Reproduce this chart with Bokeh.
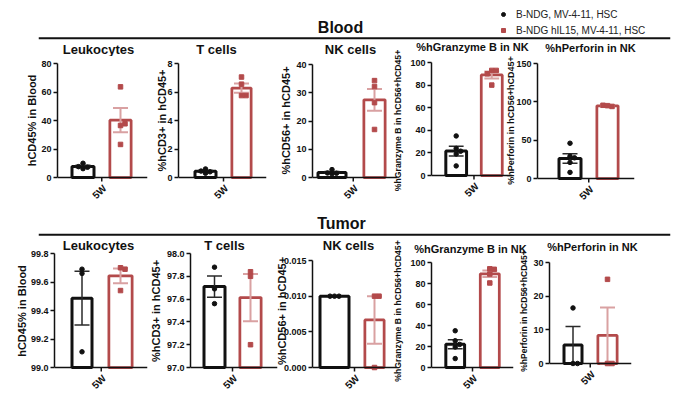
import math
import numpy as np
from bokeh.plotting import figure
from bokeh.layouts import row, column
from bokeh.models import Range1d, FixedTicker, Label, Span, Legend, LegendItem
from bokeh.embed import file_html
from bokeh.resources import INLINE

FONT = "Liberation Sans"
INK = "#111111"
RED = "#b34a4b"
RED_ERR = "#d9a1a2"
BLACK_ERR = "#2a2a2a"

# ---------------- data ----------------
group_names = ["B-NDG, MV-4-11, HSC", "B-NDG hIL15, MV-4-11, HSC"]
timepoint_label = "5W"
section_titles = ["Blood", "Tumor"]

panel_titles = ["Leukocytes", "T cells", "NK cells", "%hGranzyme B in NK", "%hPerforin in NK"]
y_labels = ["hCD45% in Blood", "%hCD3+ in hCD45+", "%hCD56+ in hCD45+",
            "%hGranzyme B in hCD56+hCD45+", "%hPerforin in hCD56+hCD45+"]

# Blood (individual mice)
blood_leuko_bndg = [6.2, 7.2, 10.0, 7.6]
blood_leuko_il15 = [63.6, 36.5, 37.7, 23.2]
blood_t_bndg = [0.30, 0.40, 0.45, 0.60]
blood_t_il15 = [7.05, 6.55, 5.75, 5.75]
blood_nk_bndg = [2.8, 1.5, 1.6, 1.3]
blood_nk_il15 = [34.3, 32.2, 26.5, 17.0]
blood_gzmb_bndg = [35.0, 24.0, 21.5, 19.0, 8.5]
blood_gzmb_il15 = [93.0, 93.0, 90.0, 80.0]
blood_prf_bndg = [46.0, 29.0, 27.0, 21.0, 8.0]
blood_prf_il15 = [95.0, 94.0, 95.5]

# Tumor (individual mice)
tumor_leuko_bndg = [99.69, 99.66, 99.11]
tumor_leuko_il15 = [99.70, 99.69, 99.54]
tumor_t_bndg = [97.88, 97.69, 97.56]
tumor_t_il15 = [97.84, 97.80, 97.20]
tumor_nk_bndg = [0.010, 0.010, 0.010]
tumor_nk_il15 = [0.010, 0.010, 0.000]
tumor_gzmb_bndg = [35.0, 25.5, 22.0, 19.5, 8.5]
tumor_gzmb_il15 = [94.0, 93.5, 89.0, 80.5]
tumor_prf_bndg = [0.0, 0.0, 16.5]
tumor_prf_il15 = [0.0, 0.0, 25.0]

# y-axis ticks and labels
blood_leuko_ticks = [0, 20, 40, 60, 80]
blood_t_ticks = [0, 2, 4, 6, 8]
blood_nk_ticks = [0, 10, 20, 30, 40]
blood_gzmb_ticks = [0, 20, 40, 60, 80, 100]
blood_prf_ticks = [0, 50, 100, 150]
tumor_leuko_ticks = [99.0, 99.2, 99.4, 99.6, 99.8]
tumor_leuko_ticklabels = ["99.0", "99.2", "99.4", "99.6", "99.8"]
tumor_t_ticks = [97.0, 97.2, 97.4, 97.6, 97.8, 98.0]
tumor_t_ticklabels = ["97.0", "97.2", "97.4", "97.6", "97.8", "98.0"]
tumor_nk_ticks = [0.0, 0.005, 0.010, 0.015]
tumor_nk_ticklabels = ["0.000", "0.005", "0.010", "0.015"]
tumor_gzmb_ticks = [0, 20, 40, 60, 80, 100]
tumor_prf_ticks = [0, 10, 20, 30]

# ---------------- layout (window pixel coordinates) ----------------
HDR1 = dict(top=0, bottom=56, title_c=(340, 27), rule=37.7)
HDR2 = dict(top=200, bottom=256, title_c=(341, 223), rule=234.3)
BLOOD_ROW = dict(top=36, bottom=204)
TUMOR_ROW = dict(top=229, bottom=392)
BAR_LW = (3.0, 2.75)
CAP_PX = 15

blood_geom = [
    dict(frame=(57, 147, 63, 177), fig=(14, 152), centers=(82.5, 120), widths=(25, 24), ls=0, tc=(98, 49), tsz=13, lsz=11),
    dict(frame=(178, 266, 63, 177), fig=(148, 272), centers=(205, 241), widths=(24, 22), ls=-4, tc=(216, 49), tsz=13, lsz=11),
    dict(frame=(312, 397, 64, 177), fig=(276, 400), centers=(331.5, 374), widths=(31, 24), ls=1, tc=(350, 49), tsz=13, lsz=11),
    dict(frame=(430, 512, 62, 175), fig=(390, 530), centers=(455, 491), widths=(24, 24), ls=4, tc=(472, 46), tsz=11, lsz=8.7),
    dict(frame=(537, 634, 63, 178), fig=(503, 645), centers=(569.5, 607), widths=(25, 24), ls=-3, tc=(590, 47), tsz=11, lsz=9),
]
tumor_geom = [
    dict(frame=(54, 147, 253, 367), fig=(10, 152), centers=(81.5, 120), widths=(23, 26), ls=0, tc=(98, 245), tsz=13, lsz=11),
    dict(frame=(190, 277, 253, 367), fig=(144, 282), centers=(214, 250), widths=(24, 24), ls=2, tc=(224, 245), tsz=13, lsz=11),
    dict(frame=(312, 397, 260, 367), fig=(270, 400), centers=(334, 374), widths=(32, 22), ls=-7, tc=(348, 245), tsz=13, lsz=11),
    dict(frame=(430, 513, 262, 367), fig=(390, 530), centers=(454, 489), widths=(22, 22), ls=4, tc=(470, 248), tsz=11, lsz=8.7),
    dict(frame=(549, 631, 262, 363), fig=(514, 645), centers=(572.5, 607), widths=(21, 22), ls=1, tc=(592, 246), tsz=11, lsz=8.5),
]


def spread(values, px_per_y, step=4.5, sep=4.0):
    placed, offs = [], []
    cands = [0.0]
    for i in range(1, 8):
        cands += [i * step, -i * step]
    for v in values:
        ypx = v * px_per_y
        chosen = cands[-1]
        for c in cands:
            if all(abs(c - pc) >= sep or abs(ypx - py) >= sep for pc, py in placed):
                chosen = c
                break
        placed.append((chosen, ypx))
        offs.append(chosen)
    return offs


def style_yaxis(p, ticks, ticklabels, lsz, ls):
    yax = p.yaxis[0]
    yax.ticker = FixedTicker(ticks=list(ticks))
    yax.major_label_overrides = {t: l for t, l in zip(ticks, ticklabels)}
    yax.bounds = (ticks[0], ticks[-1])
    yax.axis_line_color = INK
    yax.axis_line_width = 1.5
    yax.major_tick_line_color = INK
    yax.major_tick_line_width = 1.5
    yax.major_tick_out = 4
    yax.major_tick_in = 0
    yax.minor_tick_line_color = None
    yax.major_label_text_font = FONT
    yax.major_label_text_font_style = "bold"
    yax.major_label_text_font_size = "9px"
    yax.major_label_text_color = INK
    yax.major_label_standoff = 2
    yax.axis_label_text_font = FONT
    yax.axis_label_text_font_style = "bold"
    yax.axis_label_text_font_size = f"{lsz}px"
    yax.axis_label_text_color = INK
    yax.axis_label_standoff = ls
    p.ygrid.visible = False


def make_panel(ylabel, bndg, il15, ticks, ticklabels, g, rw):
    FL, FR, FT, FB = g["frame"]
    figL, figR = g["fig"]
    cb, cr = g["centers"]
    wb, wr = g["widths"]
    top, bottom = rw["top"], rw["bottom"]
    unit = cr - cb
    xs = -(cb - FL) / unit
    xe = (FR - cb) / unit
    y0, y1 = ticks[0], ticks[-1]
    px_per_y = (FB - FT) / (y1 - y0)
    ys = y0 - (bottom - FB) / px_per_y
    ye = y1 + (FT - top) / px_per_y
    p = figure(width=figR - figL, height=bottom - top,
               x_range=Range1d(xs, xe), y_range=Range1d(ys, ye),
               x_axis_location=None,
               output_backend="svg", toolbar_location=None,
               min_border_left=int(round(FL - figL)), min_border_right=int(round(figR - FR)),
               min_border_top=0, min_border_bottom=0,
               background_fill_color=None, border_fill_color=None, outline_line_color=None)
    p.xgrid.visible = False
    p.yaxis.axis_label = ylabel
    style_yaxis(p, ticks, ticklabels, g["lsz"], g["ls"])

    # x axis baseline and the single category tick
    p.add_layout(Span(location=y0, dimension="width", line_color=INK, line_width=1.5))
    p.segment(x0=[0.5], y0=[y0], x1=[0.5], y1=[y0 - 4 / px_per_y], line_color=INK, line_width=1.5)

    groups = [(bndg, INK, BLACK_ERR, "circle", wb, 1.5, BAR_LW[0]),
              (il15, RED, RED_ERR, "square", wr, 2.0, BAR_LW[1])]
    for gi, (vals, col, ecol, marker, wpx, elw, blw) in enumerate(groups):
        arr = np.asarray(vals, dtype=float)
        m = float(arr.mean())
        s = float(arr.std(ddof=1) / np.sqrt(len(arr)))
        p.vbar(x=[gi], top=[m], bottom=y0, width=(wpx - blw) / unit,
               fill_color="white", line_color=col, line_width=blw)
        capw = CAP_PX / unit
        p.segment(x0=[gi], y0=[m - s], x1=[gi], y1=[m + s], line_color=ecol, line_width=elw)
        p.segment(x0=[gi - capw / 2] * 2, y0=[m - s, m + s], x1=[gi + capw / 2] * 2, y1=[m - s, m + s],
                  line_color=ecol, line_width=elw)
        offs = spread(list(arr - y0), px_per_y)
        xs_pts = [gi + o / unit for o in offs]
        p.scatter(x=xs_pts, y=list(arr), marker=marker, size=4.5, fill_color=col, line_color=col)

    # rotated category label under the tick
    p.add_layout(Label(x=0.5, y=y0, text=timepoint_label, angle=math.pi / 4, text_align="right",
                       text_baseline="middle", x_offset=3, y_offset=-9, text_font=FONT,
                       text_font_style="bold", text_font_size="10px", text_color=INK))
    return p


def make_header(text, hd, geoms, with_legend):
    top, bottom = hd["top"], hd["bottom"]
    h = bottom - top
    fl, fr = 38, 670
    hdr = figure(width=672, height=h, x_range=Range1d(0, fr - fl), y_range=Range1d(0, h),
                 x_axis_type=None, y_axis_type=None, output_backend="svg", toolbar_location=None,
                 min_border_left=fl, min_border_right=672 - fr, min_border_top=0,
                 min_border_bottom=0, background_fill_color=None, border_fill_color=None,
                 outline_line_color=None)
    cx, cy = hd["title_c"]
    hdr.add_layout(Label(x=cx - fl, y=bottom - cy, text=text, text_align="center",
                         text_baseline="middle", text_font=FONT, text_font_style="bold",
                         text_font_size="16px", text_color=INK))
    hdr.add_layout(Span(location=bottom - hd["rule"], dimension="width", line_color=INK, line_width=2))
    for t, g in zip(panel_titles, geoms):
        tx, ty = g["tc"]
        hdr.add_layout(Label(x=tx - fl, y=bottom - ty, text=t, text_align="center",
                             text_baseline="middle", text_font=FONT, text_font_style="bold",
                             text_font_size=f"{g['tsz']}px", text_color=INK))
    if with_legend:
        r1 = hdr.scatter(x=[-1000], y=[-1000], marker="circle", size=4.5, fill_color=INK, line_color=INK)
        r2 = hdr.scatter(x=[-1000], y=[-1000], marker="square", size=4.5, fill_color=RED, line_color=RED)
        leg = Legend(items=[LegendItem(label=group_names[0], renderers=[r1]),
                            LegendItem(label=group_names[1], renderers=[r2])],
                     location=(460, bottom - 36), glyph_width=10, glyph_height=12, label_height=12,
                     label_standoff=8, spacing=4, padding=0, margin=0,
                     label_text_font=FONT, label_text_font_size="10px", label_text_color="#222222",
                     border_line_color=None, background_fill_color=None, background_fill_alpha=0)
        hdr.add_layout(leg)
    return hdr


blood_data = [
    (blood_leuko_bndg, blood_leuko_il15, blood_leuko_ticks, [str(t) for t in blood_leuko_ticks]),
    (blood_t_bndg, blood_t_il15, blood_t_ticks, [str(t) for t in blood_t_ticks]),
    (blood_nk_bndg, blood_nk_il15, blood_nk_ticks, [str(t) for t in blood_nk_ticks]),
    (blood_gzmb_bndg, blood_gzmb_il15, blood_gzmb_ticks, [str(t) for t in blood_gzmb_ticks]),
    (blood_prf_bndg, blood_prf_il15, blood_prf_ticks, [str(t) for t in blood_prf_ticks]),
]
tumor_data = [
    (tumor_leuko_bndg, tumor_leuko_il15, tumor_leuko_ticks, tumor_leuko_ticklabels),
    (tumor_t_bndg, tumor_t_il15, tumor_t_ticks, tumor_t_ticklabels),
    (tumor_nk_bndg, tumor_nk_il15, tumor_nk_ticks, tumor_nk_ticklabels),
    (tumor_gzmb_bndg, tumor_gzmb_il15, tumor_gzmb_ticks, [str(t) for t in tumor_gzmb_ticks]),
    (tumor_prf_bndg, tumor_prf_il15, tumor_prf_ticks, [str(t) for t in tumor_prf_ticks]),
]


def build_row(data, geoms, rw, margin_top):
    figs = []
    prev_right = 0
    for i, ((b, r, ticks, tl), g) in enumerate(zip(data, geoms)):
        p = make_panel(y_labels[i], b, r, ticks, tl, g, rw)
        p.margin = (0, 0, 0, int(g["fig"][0] - prev_right))
        prev_right = g["fig"][1]
        figs.append(p)
    r = row(*figs, spacing=0)
    r.margin = (margin_top, 0, 0, 0)
    return r


blood_header = make_header(section_titles[0], HDR1, blood_geom, True)
blood_row = build_row(blood_data, blood_geom, BLOOD_ROW, BLOOD_ROW["top"] - HDR1["bottom"])
tumor_header = make_header(section_titles[1], HDR2, tumor_geom, False)
tumor_header.margin = (HDR2["top"] - BLOOD_ROW["bottom"], 0, 0, 0)
tumor_row = build_row(tumor_data, tumor_geom, TUMOR_ROW, TUMOR_ROW["top"] - HDR2["bottom"])

layout = column(blood_header, blood_row, tumor_header, tumor_row, spacing=0)

open("out.html", "w").write(file_html(layout, INLINE))
